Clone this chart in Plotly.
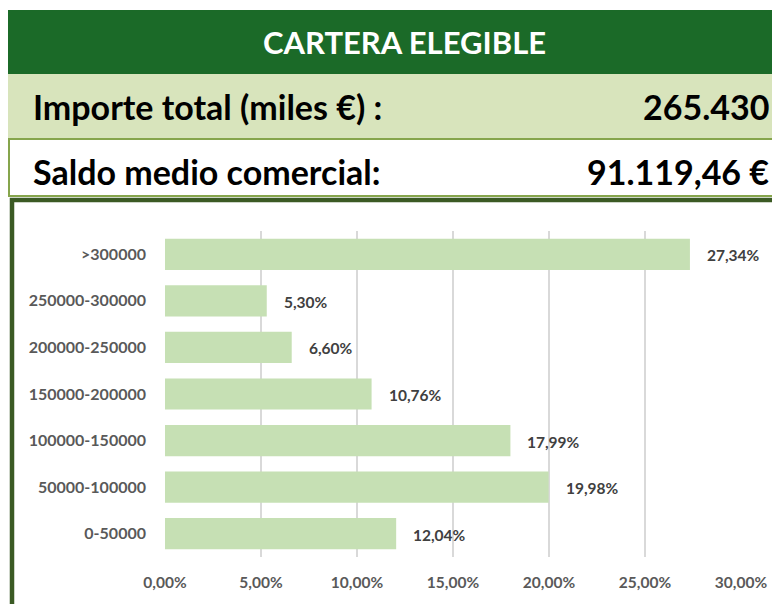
import plotly.graph_objects as go

# the page body adds an 8px offset, so the figure is drawn 8px smaller
OFF = 8
W, H = 780 - OFF, 604 - OFF

# data
tramos = ["0-50000", "50000-100000", "100000-150000", "150000-200000",
          "200000-250000", "250000-300000", ">300000"]
porcentaje = [0.1204, 0.1998, 0.1799, 0.1076, 0.0660, 0.0530, 0.2734]

titulo = "CARTERA ELEGIBLE"
importe_label = "Importe total (miles €) :"
importe_valor = "265.430"
saldo_label = "Saldo medio comercial:"
saldo_valor = "91.119,46 €"

FONT = "Lato"
DARK_GREEN = "#1b6a28"
LIGHT_GREEN = "#d8e4bc"
BAR_GREEN = "#c6e0b4"
SMALL = 15.5


def px(x):
    return (x - OFF) / W


def py(y):
    return 1 - (y - OFF) / H


def fmt_pct(v):
    return f"{v * 100:.2f}%".replace(".", ",")


fig = go.Figure(
    go.Bar(
        x=porcentaje,
        y=tramos,
        orientation="h",
        marker=dict(color=BAR_GREEN, line=dict(width=0)),
        width=0.67,
        hoverinfo="skip",
    )
)

for cat, val in zip(tramos, porcentaje):
    fig.add_annotation(
        x=val, y=cat, xref="x", yref="y",
        text=f"<b>{fmt_pct(val)}</b>",
        showarrow=False, xanchor="left", xshift=15, yshift=-1,
        font=dict(family=FONT, size=SMALL, color="#404040"),
    )

# header bands
shapes = [
    dict(type="rect", xref="paper", yref="paper",
         x0=px(8), x1=px(800), y0=py(10), y1=py(74),
         fillcolor=DARK_GREEN, line=dict(width=0), layer="below"),
    dict(type="rect", xref="paper", yref="paper",
         x0=px(8), x1=px(800), y0=py(74), y1=py(138),
         fillcolor=LIGHT_GREEN, line=dict(width=0), layer="below"),
    dict(type="rect", xref="paper", yref="paper",
         x0=px(9), x1=px(800), y0=py(139), y1=py(196),
         fillcolor="white", line=dict(color="#86a54c", width=2), layer="below"),
    dict(type="rect", xref="paper", yref="paper",
         x0=px(12), x1=px(810), y0=py(200), y1=py(640),
         fillcolor="rgba(0,0,0,0)", line=dict(color="#3b5a24", width=4.5), layer="below"),
]

texts = [
    dict(text=f"<b>{titulo}</b>", x=px(404), y=py(42), xanchor="center",
         font=dict(family=FONT, size=31, color="white")),
    dict(text=f"<b>{importe_label}</b>", x=px(31), y=py(106), xanchor="left",
         font=dict(family=FONT, size=34, color="black")),
    dict(text=f"<b>{importe_valor}</b>", x=px(771), y=py(106), xanchor="right",
         font=dict(family=FONT, size=34, color="black")),
    dict(text=f"<b>{saldo_label}</b>", x=px(31), y=py(171), xanchor="left",
         font=dict(family=FONT, size=34, color="black")),
    dict(text=f"<b>{saldo_valor}</b>", x=px(771), y=py(171), xanchor="right",
         font=dict(family=FONT, size=34, color="black")),
]
for t in texts:
    fig.add_annotation(xref="paper", yref="paper", showarrow=False,
                       yanchor="middle", **t)

fig.update_layout(
    width=W, height=H,
    margin=dict(l=0, r=0, t=0, b=0, autoexpand=False),
    paper_bgcolor="white",
    plot_bgcolor="white",
    separators=",.",
    showlegend=False,
    bargap=0.33,
    shapes=shapes,
    xaxis=dict(
        domain=[px(165), px(741)],
        range=[0, 0.30],
        dtick=0.05,
        tickformat=".2%",
        showgrid=True,
        gridcolor="#d9d9d9",
        gridwidth=1.5,
        zeroline=False,
        showline=False,
        ticks="",
        automargin=False,
        ticklabelstandoff=14,
        tickfont=dict(family=FONT, size=SMALL, color="#595959", weight="bold"),
        fixedrange=True,
    ),
    yaxis=dict(
        domain=[py(557), py(231)],
        categoryorder="array",
        categoryarray=tramos,
        showgrid=False,
        zeroline=False,
        showline=False,
        ticks="",
        automargin=False,
        ticklabelstandoff=18,
        tickfont=dict(family=FONT, size=16, color="#595959", weight="bold"),
        fixedrange=True,
    ),
)

fig.write_html("out.html")
